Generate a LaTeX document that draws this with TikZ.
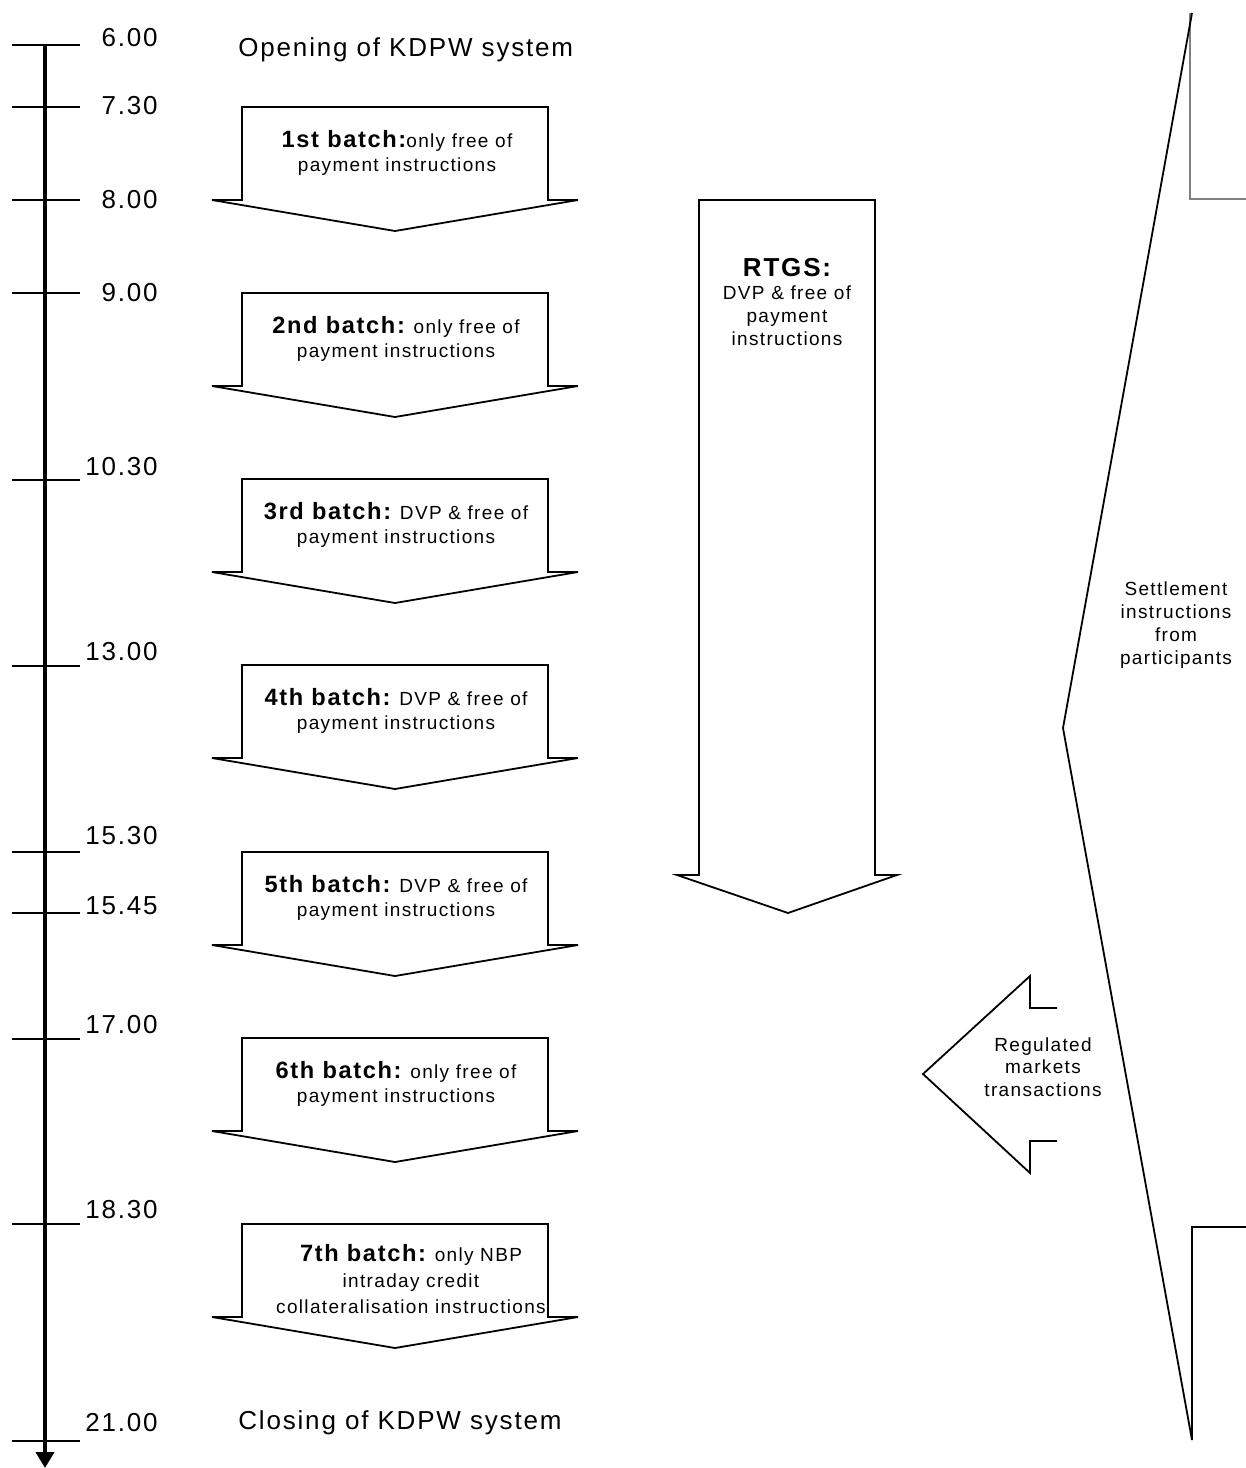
\documentclass[tikz,border=0pt]{standalone}
\usepackage{fontspec}
\setmainfont{Liberation Sans}[LetterSpace=7]
\usetikzlibrary{arrows.meta}
\definecolor{calloutgray}{HTML}{808080}
\tikzset{
  timeline/.style={line width=2.2pt},
  tickmark/.style={line width=1.2pt},
  arrowshape/.style={draw=black, line width=0.9pt, line join=miter, fill=white},
  timelabel/.style={anchor=east, inner sep=0pt, font=\fontsize{13}{15}\selectfont},
  eventlabel/.style={anchor=west, inner sep=0pt, font=\fontsize{13}{15}\selectfont},
  batchtext/.style={align=center, inner sep=0pt, font=\fontsize{9.5}{12}\selectfont},
  smalltext/.style={align=center, inner sep=0pt, font=\fontsize{9.5}{11.4}\selectfont},
  batcharrow/.pic={\draw[arrowshape] (-153,0) -- (153,0) -- (153,93) -- (183,93) -- (0,124) -- (-183,93) -- (-153,93) -- cycle;}
}
\newcommand\bhead[1]{{\bfseries\fontsize{11.8}{12}\selectfont #1}}
\begin{document}
\begin{tikzpicture}[x=0.5pt,y=-0.5pt]
\useasboundingbox (0,0) rectangle (1246,1468);

% timeline
\coordinate (tltop) at (45,45);
\coordinate (tlend) at (45,1468);
\draw[timeline,-{Triangle[length=8pt,width=9pt]}] (tltop) -- (tlend);
\foreach \y in {45,107,200,293,480,666,852,913,1039,1224,1441}
  \draw[tickmark] (12,\y) -- (80,\y);

\node[timelabel] (t600)  at (158,38)   {6.00};
\node[timelabel] (t730)  at (158,106)  {7.30};
\node[timelabel] (t800)  at (158,200)  {8.00};
\node[timelabel] (t900)  at (158,293)  {9.00};
\node[timelabel] (t1030) at (158,467)  {10.30};
\node[timelabel] (t1300) at (158,652)  {13.00};
\node[timelabel] (t1530) at (158,836)  {15.30};
\node[timelabel] (t1545) at (158,906)  {15.45};
\node[timelabel] (t1700) at (158,1025) {17.00};
\node[timelabel] (t1830) at (158,1210) {18.30};
\node[timelabel] (t2100) at (158,1423) {21.00};

\node[eventlabel] (open)  at (238,50)   {Opening of KDPW system};
\node[eventlabel] (close) at (238,1423) {Closing of KDPW system};

% batch arrows
\pic at (395,107)  {batcharrow};
\pic at (395,293)  {batcharrow};
\pic at (395,479)  {batcharrow};
\pic at (395,665)  {batcharrow};
\pic at (395,852)  {batcharrow};
\pic at (395,1038) {batcharrow};
\pic at (395,1224) {batcharrow};

\node[batchtext] (b1) at (397,153)  {\bhead{1st batch:}only free of\\payment instructions};
\node[batchtext] (b2) at (396,339)  {\bhead{2nd batch:} only free of\\payment instructions};
\node[batchtext] (b3) at (396,525)  {\bhead{3rd batch:} DVP \& free of\\payment instructions};
\node[batchtext] (b4) at (396,711)  {\bhead{4th batch:} DVP \& free of\\payment instructions};
\node[batchtext] (b5) at (396,898)  {\bhead{5th batch:} DVP \& free of\\payment instructions};
\node[batchtext] (b6) at (396,1084) {\bhead{6th batch:} only free of\\payment instructions};
\node[batchtext, font=\fontsize{9.5}{13}\selectfont] (b7) at (411,1279) {\bhead{7th batch:} only NBP\\intraday credit\\collateralisation instructions};

% RTGS arrow
\draw[arrowshape] (699,200) -- (875,200) -- (875,875) -- (897,875) -- (788,913) -- (677,875) -- (699,875) -- cycle;
\node[smalltext] (rtgs) at (787,302) {{\bfseries\fontsize{13}{14}\selectfont RTGS:}\\DVP \& free of\\payment\\instructions};

% right callout
\draw[calloutgray, line width=0.7pt] (1190,13) -- (1190,199) -- (1246,199);
\draw[line width=0.9pt, line join=miter] (1192,13) -- (1063,728) -- (1192,1440) -- (1192,1227) -- (1246,1227);
\node[smalltext] (settle) at (1176,625) {Settlement\\instructions\\from\\participants};

% regulated markets arrow
\draw[line width=0.9pt, line join=miter] (1057,1008) -- (1030,1008) -- (1030,976) -- (923,1074) -- (1030,1173) -- (1030,1141) -- (1057,1141);
\node[smalltext] (regm) at (1043,1067) {Regulated\\markets\\transactions};
\end{tikzpicture}
\end{document}
